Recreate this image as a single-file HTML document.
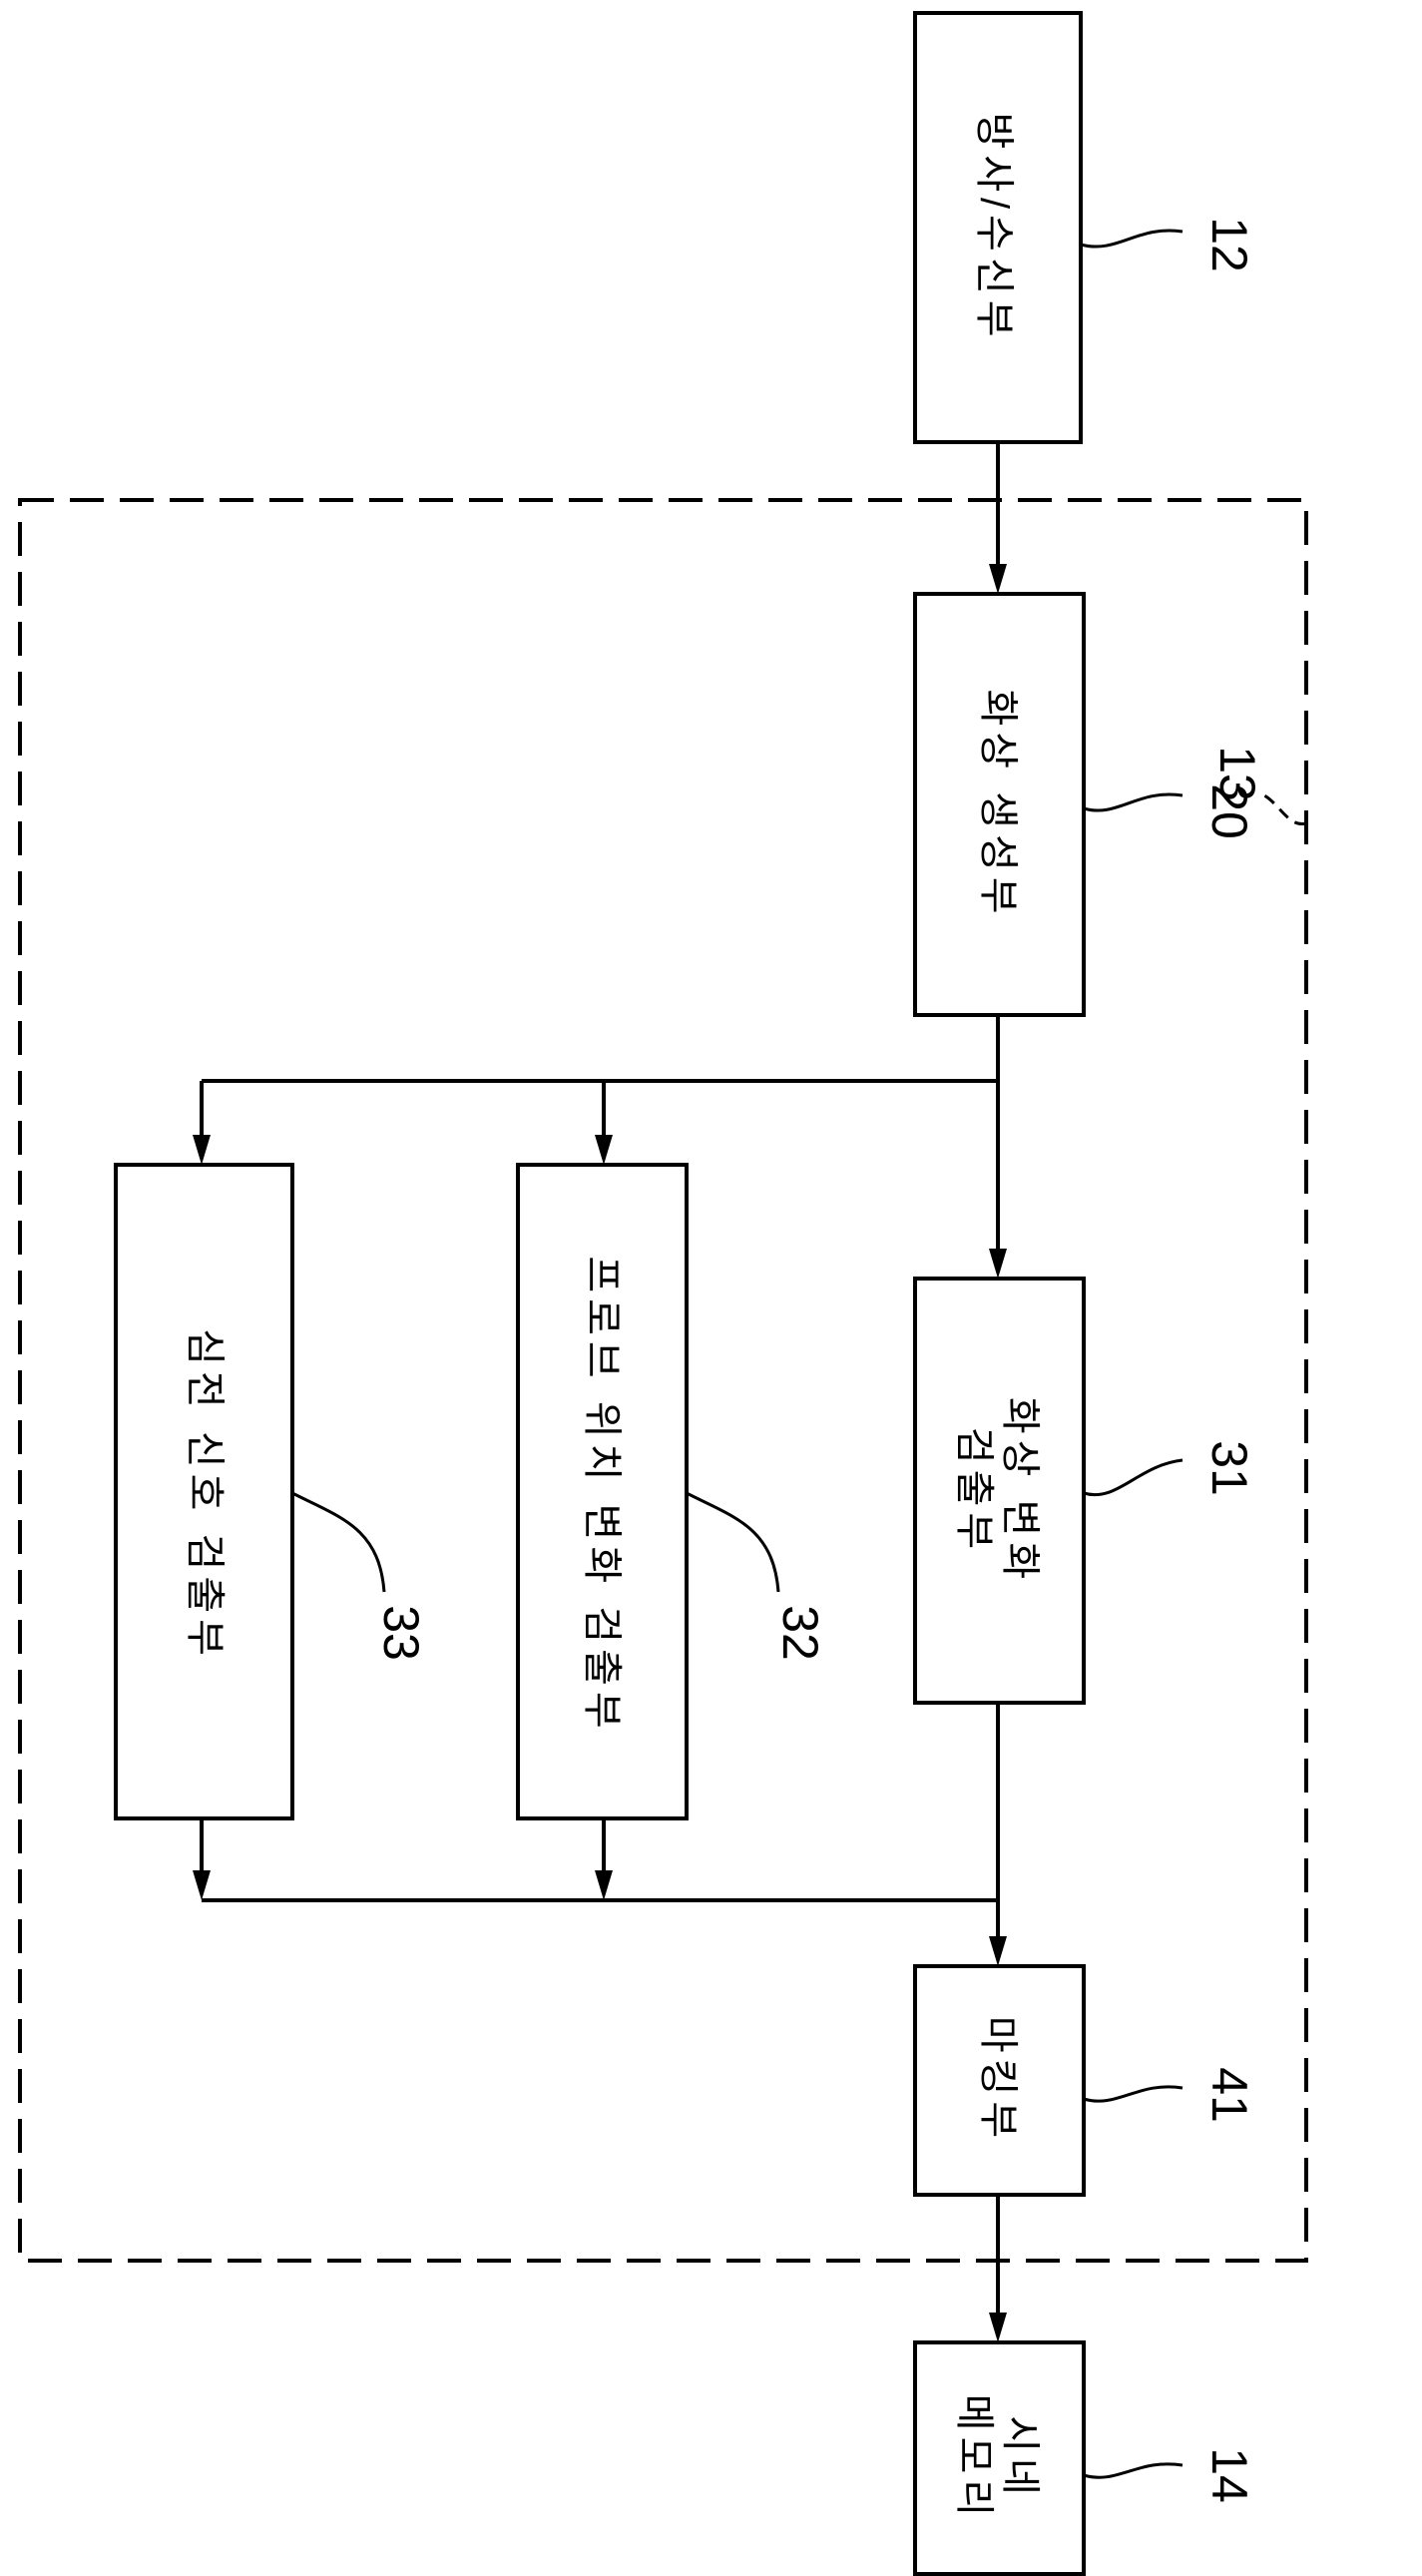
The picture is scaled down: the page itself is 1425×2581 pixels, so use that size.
<!DOCTYPE html>
<html><head><meta charset="utf-8"><style>
html,body{margin:0;padding:0;background:#fff;}
svg{display:block;}
text{font-family:"Liberation Sans","Noto Sans CJK KR","NanumGothic",sans-serif;fill:#000;}
.k{font-size:40px;letter-spacing:6px;}
.n{font-size:50px;}
</style></head><body>
<svg width="1425" height="2581" viewBox="0 0 1425 2581" xmlns="http://www.w3.org/2000/svg">
<g fill="none" stroke="#000" stroke-width="4">
<!-- dashed container -->
<rect x="20" y="501" width="1289" height="1764" stroke-dasharray="34,16"/>
<!-- boxes -->
<rect x="917" y="13" width="166" height="430"/>
<rect x="917" y="595" width="169" height="422"/>
<rect x="917" y="1281" width="169" height="425"/>
<rect x="519" y="1167" width="169" height="655"/>
<rect x="116" y="1167" width="177" height="655"/>
<rect x="917" y="1970" width="169" height="229"/>
<rect x="917" y="2347" width="169" height="232"/>
<!-- connectors -->
<line x1="1000" y1="443" x2="1000" y2="570"/>
<line x1="1000" y1="1017" x2="1000" y2="1256"/>
<line x1="202" y1="1083" x2="1000" y2="1083"/>
<line x1="202" y1="1083" x2="202" y2="1142"/>
<line x1="605" y1="1083" x2="605" y2="1142"/>
<line x1="202" y1="1822" x2="202" y2="1880"/>
<line x1="605" y1="1822" x2="605" y2="1880"/>
<line x1="202" y1="1904" x2="1000" y2="1904"/>
<line x1="1000" y1="1706" x2="1000" y2="1945"/>
<line x1="1000" y1="2199" x2="1000" y2="2322"/>
<!-- leaders -->
<path d="M1083 245 C1120 255,1140 225,1185 232" stroke-width="3"/>
<path d="M1086 810 C1120 820,1140 790,1185 797" stroke-width="3"/>
<path d="M1086 1496 C1120 1506,1140 1468,1185 1463" stroke-width="3"/>
<path d="M1086 2103 C1120 2113,1140 2085,1185 2092" stroke-width="3"/>
<path d="M1086 2480 C1120 2490,1140 2463,1185 2470" stroke-width="3"/>
<path d="M293 1496 C340 1520,380 1530,385 1595" stroke-width="3"/>
<path d="M688 1496 C735 1520,775 1530,780 1595" stroke-width="3"/>
<path d="M1309 825 C1290 830,1280 800,1262 795" stroke-width="3" stroke-dasharray="12,8"/>
</g>
<g fill="#000">
<polygon points="1000,595 991,565 1009,565"/>
<polygon points="202,1167 193,1137 211,1137"/>
<polygon points="605,1167 596,1137 614,1137"/>
<polygon points="202,1904 193,1874 211,1874"/>
<polygon points="605,1904 596,1874 614,1874"/>
<polygon points="1000,1281 991,1251 1009,1251"/>
<polygon points="1000,1970 991,1940 1009,1940"/>
<polygon points="1000,2347 991,2317 1009,2317"/>
</g>
<g dominant-baseline="central" text-anchor="middle">
<text class="k" transform="translate(996,228) rotate(90)">방사/수신부</text>
<text class="k" transform="translate(1000,806) rotate(90)">화상 생성부</text>
<text class="k" transform="translate(1022,1494) rotate(90)">화상 변화</text>
<text class="k" transform="translate(976,1494) rotate(90)">검출부</text>
<text class="k" transform="translate(603,1498) rotate(90)">프로브 위치 변화 검출부</text>
<text class="k" transform="translate(205,1498) rotate(90)">심전 신호 검출부</text>
<text class="k" transform="translate(1000,2084) rotate(90)">마킹부</text>
<text class="k" transform="translate(1022,2463) rotate(90)">시네</text>
<text class="k" transform="translate(976,2463) rotate(90)">메모리</text>
<text class="n" transform="translate(1232,245) rotate(90)">12</text>
<text class="n" transform="translate(1232,813) rotate(90)">20</text>
<text class="n" transform="translate(1240,775) rotate(90)">13</text>
<text class="n" transform="translate(1232,1471) rotate(90)">31</text>
<text class="n" transform="translate(1232,2099) rotate(90)">41</text>
<text class="n" transform="translate(1232,2480) rotate(90)">14</text>
<text class="n" transform="translate(402,1636) rotate(90)">33</text>
<text class="n" transform="translate(802,1636) rotate(90)">32</text>
</g>
</svg>
</body></html>
